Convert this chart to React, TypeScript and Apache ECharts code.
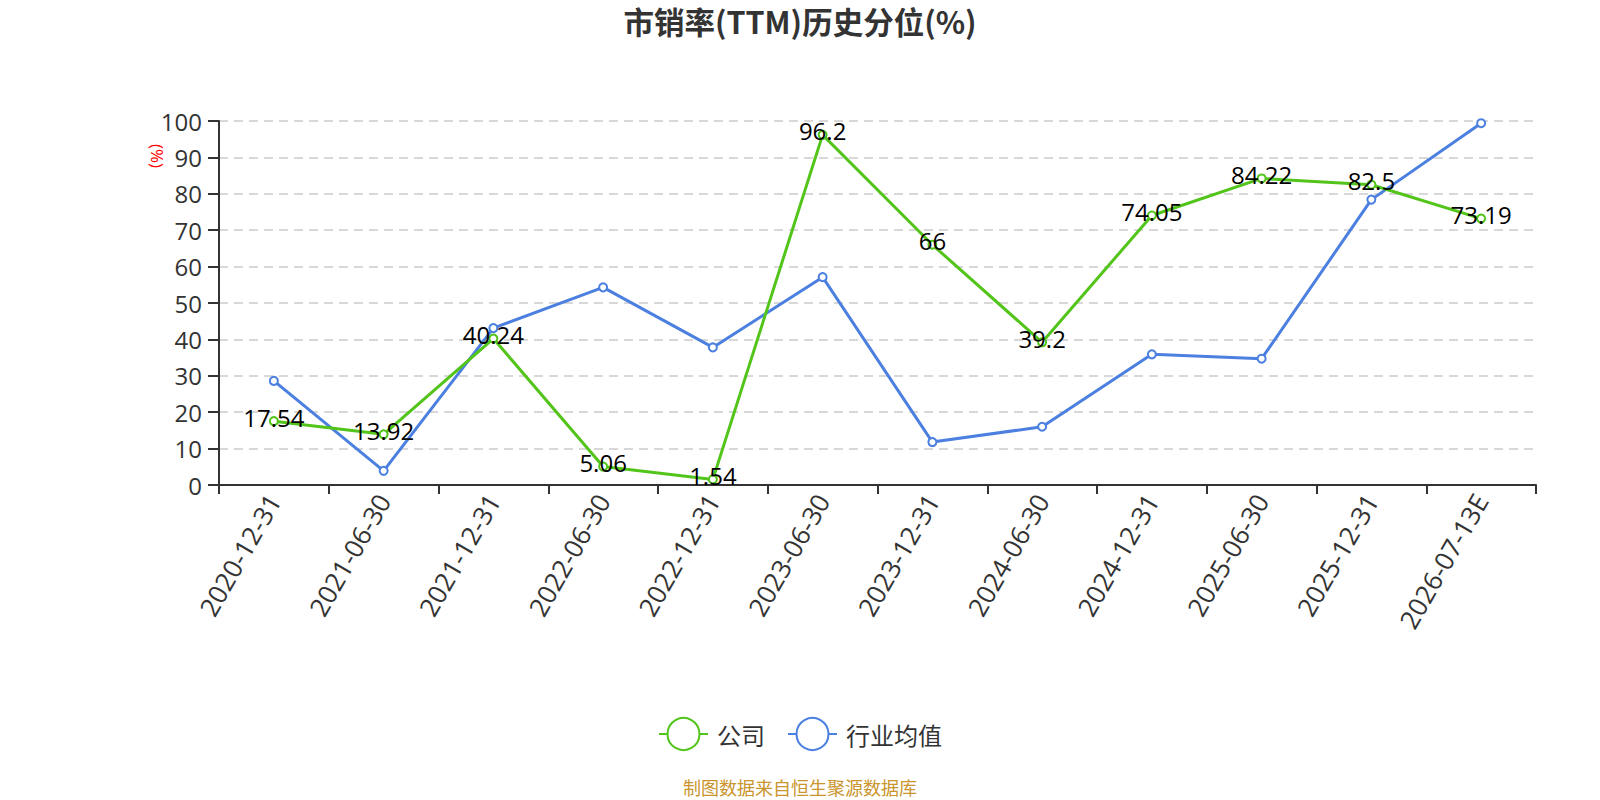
import React, { useEffect, useRef } from "react";
import * as echarts from "echarts";

const categories = [
  "2020-12-31", "2021-06-30", "2021-12-31", "2022-06-30", "2022-12-31", "2023-06-30",
  "2023-12-31", "2024-06-30", "2024-12-31", "2025-06-30", "2025-12-31", "2026-07-13E",
];
const companyValues = [17.54, 13.92, 40.24, 5.06, 1.54, 96.2, 66, 39.2, 74.05, 84.22, 82.5, 73.19];
const industryValues = [28.6, 3.9, 43.1, 54.3, 37.8, 57.1, 11.8, 16.0, 35.9, 34.7, 78.4, 99.4];
const yTicks = { min: 0, max: 100, interval: 10 };

const GREEN = "#52c41a";
const BLUE = "#4b7fe0";

export default function App() {
  const ref = useRef<HTMLDivElement>(null);
  useEffect(() => {
    document.body.style.margin = "0";
    const chart = echarts.init(ref.current!, null, { renderer: "svg" });
    chart.setOption({
      animation: false,
      title: {
        text: "市销率(TTM)历史分位(%)",
        left: "center",
        top: 1,
        textStyle: { fontSize: 30.5, fontWeight: "bold", color: "#333", fontFamily: "Noto Sans CJK SC" },
      },
      grid: { left: 219, right: 64, top: 121, bottom: 315, containLabel: false },
      legend: {
        top: 712,
        left: "center",
        itemWidth: 49,
        itemHeight: 40,
        itemGap: 22,
        textStyle: { fontSize: 24, color: "#333", fontFamily: "Noto Sans CJK SC", padding: [0, 0, 0, 4] },
        data: ["公司", "行业均值"],
      },
      xAxis: {
        type: "category",
        data: categories,
        boundaryGap: true,
        axisLine: { lineStyle: { color: "#333", width: 2 } },
        axisTick: { show: true, length: 9, lineStyle: { color: "#333", width: 2 } },
        axisLabel: { rotate: 60, fontSize: 26, color: "#333", interval: 0, margin: 11, fontFamily: "Open Sans" },
      },
      yAxis: {
        type: "value",
        min: yTicks.min,
        max: yTicks.max,
        interval: yTicks.interval,
        axisLine: { show: true, lineStyle: { color: "#333", width: 2 } },
        axisTick: { show: true, length: 11, lineStyle: { color: "#333", width: 2 } },
        axisLabel: { fontSize: 24, color: "#333", margin: 17, fontFamily: "Open Sans" },
        splitLine: { show: true, lineStyle: { type: [9, 6], color: "#ccc", width: 1.5 } },
      },
      graphic: [
        {
          type: "text",
          x: 157,
          y: 156,
          rotation: -Math.PI / 2,
          style: {
            text: "(%)",
            fill: "#f00",
            fontSize: 17,
            font: "17px 'Open Sans'",
            fontFamily: "Open Sans",
            align: "center",
            verticalAlign: "middle",
          },
        },
        {
          type: "text",
          left: "center",
          top: 778,
          style: { text: "制图数据来自恒生聚源数据库", fill: "#c9952c", fontSize: 18, fontFamily: "Noto Sans CJK SC" },
        },
      ],
      series: [
        {
          name: "公司",
          type: "line",
          data: companyValues,
          symbol: "emptyCircle",
          symbolSize: 8,
          itemStyle: { color: GREEN },
          lineStyle: { color: GREEN, width: 3 },
          label: {
            show: true,
            position: "inside",
            offset: [0, -4],
            fontSize: 24,
            color: "#000",
            fontFamily: "Open Sans",
          },
          z: 3,
        },
        {
          name: "行业均值",
          type: "line",
          data: industryValues,
          symbol: "emptyCircle",
          symbolSize: 8,
          itemStyle: { color: BLUE },
          lineStyle: { color: BLUE, width: 3 },
          label: { show: false },
          z: 2,
        },
      ],
    });
    return () => chart.dispose();
  }, []);
  return <div ref={ref} style={{ width: 1600, height: 800 }} />;
}
